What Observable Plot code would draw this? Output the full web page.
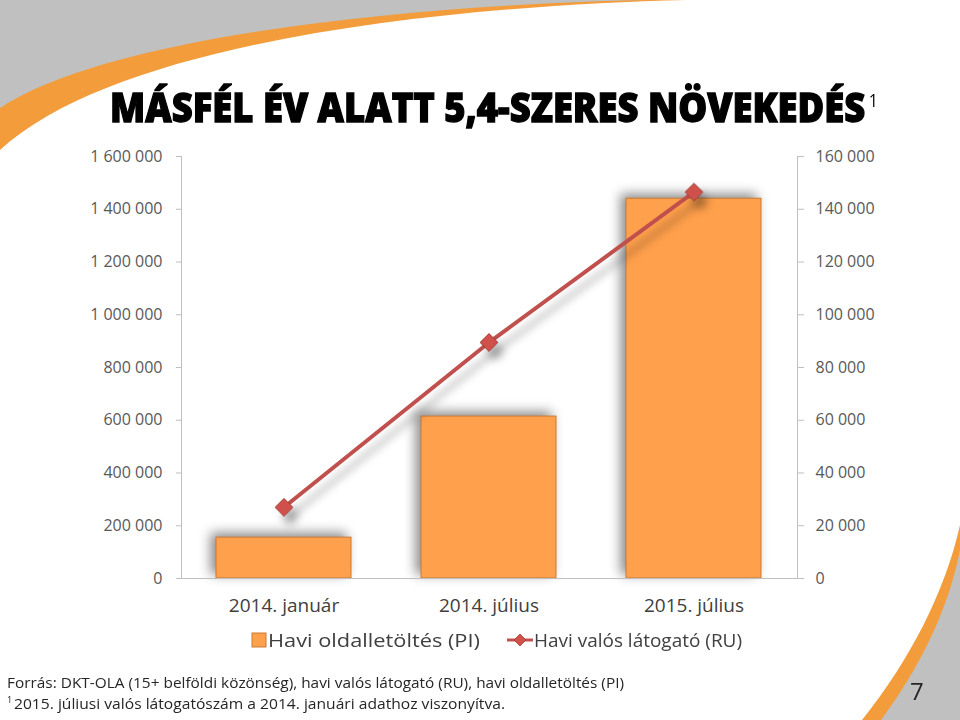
<!DOCTYPE html>
<html><head><meta charset="utf-8">
<script src="https://cdn.jsdelivr.net/npm/d3@7"></script>
<script src="https://cdn.jsdelivr.net/npm/@observablehq/plot@0.6"></script>
<style>
html,body{margin:0;padding:0;background:#fff;}
#page{position:relative;width:960px;height:720px;overflow:hidden;font-family:"Open Sans",sans-serif;}
#bg,#overlay{position:absolute;left:0;top:0;}
#chart{position:absolute;left:0;top:140px;}
</style></head><body>
<div id="page">
<svg id="bg" width="960" height="720">
  <path d="M0,0 H686 C450,6 120,40 0,150 Z" fill="#F39C3B"/>
  <path d="M0,0 H650 C420,4 110,35 0,108 Z" fill="#C0C0C0"/>
  <path d="M960,525 C945,592 910,660 862,720 H960 Z" fill="#F39C3B"/>
  <path d="M960,550 C948,612 918,670 881,720 H960 Z" fill="#C0C0C0"/>
</svg>
<div id="chart"></div>
<svg id="overlay" width="960" height="720" style="pointer-events:none;font-family:'Open Sans',sans-serif">
  <text id="title" x="110" y="122" font-size="41" font-weight="800" fill="#000" stroke="#000" stroke-width="1.3" textLength="768" lengthAdjust="spacingAndGlyphs"><tspan id="titleMain"></tspan><tspan id="titleSup" font-size="18" font-weight="400" stroke="none" dx="4" dy="-15"></tspan></text>
  <rect x="252" y="633" width="14" height="14" fill="#FFA04C" stroke="#C97B36" stroke-width="1"/>
  <text id="leg1" x="268" y="647" font-size="18" fill="#404040" textLength="212" lengthAdjust="spacingAndGlyphs"></text>
  <line x1="507" y1="640" x2="533" y2="640" stroke="#C0504D" stroke-width="3"/>
  <polygon points="520,634 526,640 520,646 514,640" fill="#D0504C" stroke="#A43A36" stroke-width="0.8"/>
  <text id="leg2" x="534" y="647" font-size="18" fill="#404040" textLength="208" lengthAdjust="spacingAndGlyphs"></text>
  <text id="foot1" x="7" y="688" font-size="15" fill="#262626" textLength="617" lengthAdjust="spacingAndGlyphs"></text>
  <text id="foot2sup" x="7" y="703" font-size="9" fill="#262626"></text>
  <text id="foot2" x="14" y="709" font-size="15" fill="#262626" textLength="491" lengthAdjust="spacingAndGlyphs"></text>
  <text id="pagenum" x="910" y="700" font-size="24" fill="#262626"></text>
</svg>
</div>
<script>
const titleText = "MÁSFÉL ÉV ALATT 5,4-SZERES NÖVEKEDÉS";
const titleSup = "1";
const categories = ["2014. január", "2014. július", "2015. július"];
const pageViews = [155000, 614000, 1440000];   // Havi oldalletöltés (PI), left axis
const realUsers = [27000, 89500, 146500];      // Havi valós látogató (RU), right axis
const leftTicks = [0, 200000, 400000, 600000, 800000, 1000000, 1200000, 1400000, 1600000];
const rightTicks = [0, 20000, 40000, 60000, 80000, 100000, 120000, 140000, 160000];
const axisRatio = 10; // left axis max / right axis max
const legendLabels = ["Havi oldalletöltés (PI)", "Havi valós látogató (RU)"];
const footLine1 = "Forrás: DKT-OLA (15+ belföldi közönség), havi valós látogató (RU), havi oldalletöltés (PI)";
const footLine2 = "2015. júliusi valós látogatószám a 2014. januári adathoz viszonyítva.";
const pageNumber = "7";

document.getElementById("titleMain").textContent = titleText;
document.getElementById("titleSup").textContent = titleSup;
document.getElementById("leg1").textContent = legendLabels[0];
document.getElementById("leg2").textContent = legendLabels[1];
document.getElementById("foot1").textContent = footLine1;
document.getElementById("foot2sup").textContent = "1";
document.getElementById("foot2").textContent = footLine2;
document.getElementById("pagenum").textContent = pageNumber;

const data = categories.map((c, i) => ({cat: c, pi: pageViews[i], ru: realUsers[i]}));
const fmt = d3.formatLocale({decimal: ",", thousands: " ", grouping: [3], currency: ["", ""]}).format(",.0f");

const chart = Plot.plot({
  width: 960,
  height: 480,
  marginLeft: 181,
  marginRight: 163,
  marginTop: 16,
  marginBottom: 42,
  style: {fontFamily: "'Open Sans', sans-serif", fontSize: "15px", background: "transparent", overflow: "visible"},
  x: {domain: categories, paddingInner: 0.34, paddingOuter: 0.17, label: null},
  y: {domain: [0, 1600000], label: null},
  marks: [
    Plot.frame({anchor: "left", stroke: "#BFBFBF"}),
    Plot.frame({anchor: "right", stroke: "#BFBFBF"}),
    Plot.barY(data, {x: "cat", y: "pi", fill: "#FFA04C", stroke: "#C97B36", strokeWidth: 1}),
    Plot.ruleY([0], {stroke: "#BFBFBF"}),
    Plot.lineY(data, {x: "cat", y: d => d.ru * axisRatio, stroke: "#C0504D", strokeWidth: 4}),
    Plot.dot(data, {x: "cat", y: d => d.ru * axisRatio, symbol: "diamond2", r: 8, fill: "#D0504C", stroke: "#A43A36", strokeWidth: 1}),
    Plot.axisY({anchor: "left", ticks: leftTicks, tickFormat: fmt, tickSize: 5, tickPadding: 14, stroke: "#BFBFBF", fill: "#595959"}),
    Plot.axisY({anchor: "right", ticks: rightTicks.map(v => v * axisRatio), tickFormat: d => fmt(d / axisRatio), tickSize: 6, tickPadding: 12, stroke: "#BFBFBF", fill: "#595959"}),
    Plot.axisX({anchor: "bottom", tickSize: 0, tickPadding: 20, fill: "#404040"})
  ]
});
document.getElementById("chart").appendChild(chart);

const svg = d3.select(chart);
svg.selectAll('g[aria-label="bar"]').style("filter", "drop-shadow(-5px -4px 6px rgba(0,0,0,0.45))");
svg.selectAll('g[aria-label="line"]').style("filter", "drop-shadow(6px 9px 4px rgba(0,0,0,0.3))");
svg.selectAll('g[aria-label="dot"]').style("filter", "drop-shadow(6px 9px 4px rgba(0,0,0,0.3))");
svg.selectAll('g[aria-label="y-axis tick label"]').attr("font-size", 16).style("font-size", "16px");
svg.selectAll('g[aria-label="x-axis tick label"]').attr("font-size", 19).style("font-size", "19px");
</script>
</body></html>
